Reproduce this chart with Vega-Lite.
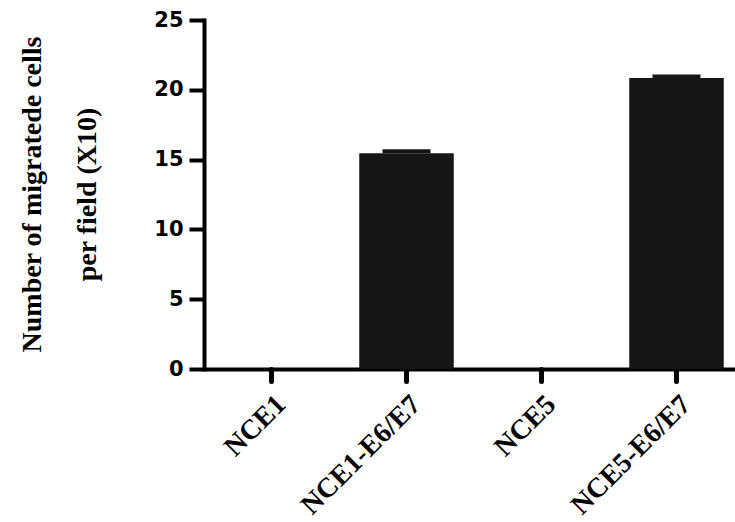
{
  "$schema": "https://vega.github.io/schema/vega-lite/v6.json",
  "width": 531,
  "height": 349,
  "autosize": {"type": "none"},
  "padding": {"left": 204, "top": 20, "right": 0, "bottom": 153},
  "background": "white",
  "config": {"view": {"stroke": null}},
  "data": {
    "values": [
      {"group": "NCE1", "mean": 0, "upper": 0},
      {"group": "NCE1-E6/E7", "mean": 15.45, "upper": 15.75},
      {"group": "NCE5", "mean": 0, "upper": 0},
      {"group": "NCE5-E6/E7", "mean": 20.85, "upper": 21.1}
    ]
  },
  "encoding": {
    "x": {
      "field": "group",
      "type": "nominal",
      "sort": null,
      "scale": {"range": [0, 540], "paddingInner": 0.3, "paddingOuter": 0.15},
      "axis": {
        "title": null,
        "labelAngle": -45,
        "labelAlign": "right",
        "labelBaseline": "top",
        "labelFont": "Liberation Serif",
        "labelFontWeight": "bold",
        "labelFontSize": 28,
        "labelColor": "black",
        "labelPadding": 9,
        "domainColor": "black",
        "domainWidth": 4,
        "tickColor": "black",
        "tickWidth": 5,
        "tickSize": 12,
        "tickCap": "round",
        "grid": false
      }
    }
  },
  "layer": [
    {
      "mark": {"type": "bar", "color": "#161616"},
      "encoding": {
        "y": {
          "field": "mean",
          "type": "quantitative",
          "scale": {"domain": [0, 25], "nice": false},
          "axis": {
            "values": [0, 5, 10, 15, 20, 25],
            "title": ["Number of migratede cells", "per field (X10)"],
            "titleFont": "Liberation Serif",
            "titleFontWeight": "bold",
            "titleFontSize": 28,
            "titleLineHeight": 55,
            "titleAngle": 270,
            "titleAlign": "center",
            "titleBaseline": "top",
            "titleX": -186,
            "titleY": 174,
            "titleColor": "black",
            "labelFont": "DejaVu Sans",
            "labelFontWeight": "bold",
            "labelFontSize": 21,
            "labelColor": "black",
            "labelPadding": 6,
            "domainColor": "black",
            "domainWidth": 4,
            "domainCap": "square",
            "tickColor": "black",
            "tickWidth": 4,
            "tickSize": 15,
            "grid": false
          }
        }
      }
    },
    {
      "mark": {"type": "bar", "color": "#161616", "width": 48},
      "encoding": {
        "y": {"field": "mean", "type": "quantitative"},
        "y2": {"field": "upper"}
      }
    }
  ]
}
